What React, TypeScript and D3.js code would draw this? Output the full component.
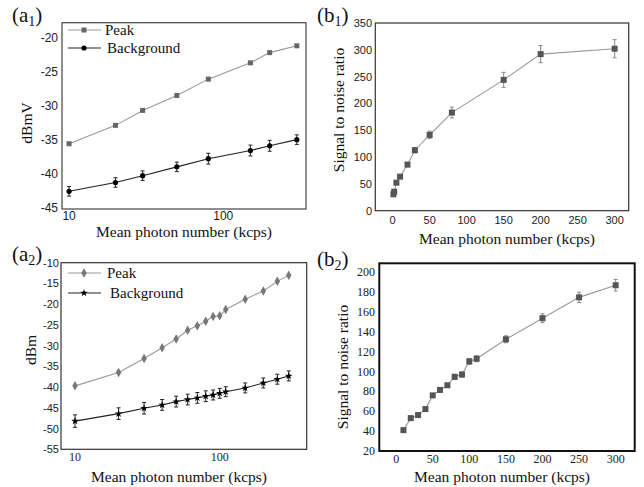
import React from "react";
import * as d3 from "d3";

// ---- data ----
const a1X = [10, 20, 30, 50, 80, 150, 200, 300];
const a1Peak = [-35.6, -32.9, -30.7, -28.5, -26.1, -23.7, -22.2, -21.2];
const a1Bg = [-42.6, -41.3, -40.3, -39.0, -37.8, -36.6, -35.9, -35.0];
const a1BgErr = [0.7, 0.7, 0.7, 0.7, 0.8, 0.8, 0.8, 0.7];
const a1YTicks = [-45, -40, -35, -30, -25, -20];
const a1XTicks = [10, 100];

const b1X = [1, 2, 5, 10, 20, 30, 50, 80, 150, 200, 300];
const b1Snr = [30.6, 35.5, 52.3, 63.5, 86, 112.8, 141.4, 183, 244, 292, 302];
const b1Err = [3, 3, 3, 3, 4, 5, 7, 10, 14, 16, 17];
const b1YTicks = [0, 50, 100, 150, 200, 250, 300, 350];
const b1XTicks = [0, 50, 100, 150, 200, 250, 300];

const a2X = [10, 20, 30, 40, 50, 60, 70, 80, 90, 100, 110, 150, 200, 250, 300];
const a2Peak = [-39.7, -36.5, -33.1, -30.5, -28.4, -26.3, -25.2, -24.1, -23.0, -22.8, -21.3, -18.8, -16.8, -14.5, -13.0];
const a2Bg = [-48.2, -46.4, -45.1, -44.3, -43.5, -43.0, -42.6, -42.2, -41.9, -41.5, -41.1, -40.2, -39.0, -38.1, -37.3];
const a2BgErr = [1.5, 1.4, 1.4, 1.3, 1.3, 1.3, 1.3, 1.3, 1.2, 1.2, 1.2, 1.2, 1.2, 1.2, 1.2];
const a2YTicks = [-55, -50, -45, -40, -35, -30, -25, -20, -15, -10];
const a2XTicks = [10, 100];

const b2X = [10, 20, 30, 40, 50, 60, 70, 80, 90, 100, 110, 150, 200, 250, 300];
const b2Snr = [41, 53.1, 56.2, 62.2, 76, 81.5, 86.2, 94.7, 97, 110.2, 112.9, 132.5, 153.7, 174.7, 186.9];
const b2Err = [1.5, 1.5, 1.5, 1.5, 1.5, 2, 2, 2.5, 2.5, 3, 3, 3.5, 4.5, 5.2, 5.8];
const b2YTicks = [20, 40, 60, 80, 100, 120, 140, 160, 180, 200];
const b2XTicks = [0, 50, 100, 150, 200, 250, 300];

const serif = "'Liberation Serif', 'Times New Roman', serif";
const sans = "'Liberation Sans', Arial, sans-serif";

const Marker = ({ kind, x, y, fill }) => {
  if (kind === "square") return <rect x={x - 2.5} y={y - 2.5} width={5} height={5} fill={fill} />;
  if (kind === "bigsquare") return <rect x={x - 3} y={y - 3} width={6} height={6} fill={fill} />;
  if (kind === "circle") return <circle cx={x} cy={y} r={2.6} fill={fill} />;
  if (kind === "diamond") {
    const p = d3.symbol(d3.symbolDiamond, 26)();
    return <path d={p} transform={`translate(${x},${y})`} fill={fill} />;
  }
  const p = d3.symbol(d3.symbolStar, 18)();
  return <path d={p} transform={`translate(${x},${y})`} fill={fill} />;
};

const Series = ({ xs, ys, errs, x, y, stroke, fill, marker, errColor }) => {
  const line = d3.line<number>().x((_, i) => x(xs[i])).y(d => y(d));
  return (
    <g>
      <path d={line(ys) || ""} fill="none" stroke={stroke} strokeWidth={1.1} />
      {errs && ys.map((v, i) => {
        const cx = x(xs[i]);
        const t = y(v + errs[i]);
        const b = y(v - errs[i]);
        return (
          <g key={"e" + i} stroke={errColor} strokeWidth={1}>
            <line x1={cx} x2={cx} y1={t} y2={b} />
            <line x1={cx - 2} x2={cx + 2} y1={t} y2={t} />
            <line x1={cx - 2} x2={cx + 2} y1={b} y2={b} />
          </g>
        );
      })}
      {ys.map((v, i) => <Marker key={i} kind={marker} x={x(xs[i])} y={y(v)} fill={fill} />)}
    </g>
  );
};

const PanelLabel = ({ x, y, letter, sub }) => (
  <text x={x} y={y} style={{ fontFamily: serif }} fontSize={21} fill="#111">
    ({letter}<tspan fontSize={14} dy={4}>{sub}</tspan><tspan dy={-4}>)</tspan>
  </text>
);

const Legend = ({ x0, y0, gap, items }) => (
  <g>
    {items.map((it, i) => {
      const yy = y0 + i * gap;
      return (
        <g key={i}>
          <line x1={x0} x2={x0 + 33} y1={yy} y2={yy} stroke={it.stroke} strokeWidth={1.1} />
          <Marker kind={it.marker} x={x0 + 16} y={yy} fill={it.fill} />
          <text x={x0 + it.dx} y={yy + 5} style={{ fontFamily: serif }} fontSize={15} fill="#111">{it.label}</text>
        </g>
      );
    })}
  </g>
);

export default function App() {
  // (a1)
  const a1x = d3.scaleLog().domain([9, 344]).range([62, 306]);
  const a1y = d3.scaleLinear().domain([-45.2, -17.8]).range([209, 22.7]);
  // (b1)
  const b1x = d3.scaleLinear().domain([-23.5, 319]).range([375.3, 628.7]);
  const b1y = d3.scaleLinear().domain([0, 350]).range([210.7, 23]);
  // (a2)
  const a2x = d3.scaleLog().domain([8, 399]).range([61, 306.7]);
  const a2y = d3.scaleLinear().domain([-55, -10]).range([449.3, 262.7]);
  // (b2)
  const b2x = d3.scaleLinear().domain([-23, 326]).range([379.3, 634.7]);
  const b2y = d3.scaleLinear().domain([20, 209]).range([451, 263.3]);

  const frame = (x, y, sw, color) => (
    <rect x={x.range()[0]} y={y.range()[1]} width={x.range()[1] - x.range()[0]}
      height={y.range()[0] - y.range()[1]} fill="none" stroke={color} strokeWidth={sw} />
  );

  const title = { fontFamily: serif };

  return (
    <svg width={644} height={487} style={{ position: "absolute", left: 0, top: 0, background: "#fff" }}>
      <rect width={644} height={487} fill="#fff" />

      {/* ---------- a1 ---------- */}
      {frame(a1x, a1y, 1.2, "#444")}
      {a1YTicks.map(t => (
        <text key={t} x={58} y={a1y(t) + 4} textAnchor="end" fontFamily={sans} fontSize={12} fill="#222">{t}</text>
      ))}
      {a1XTicks.map(t => (
        <text key={t} x={a1x(t)} y={220} textAnchor="middle" fontFamily={sans} fontSize={12} fill="#222">{t}</text>
      ))}
      <Series xs={a1X} ys={a1Peak} x={a1x} y={a1y} stroke="#999" fill="#666" marker="square" />
      <Series xs={a1X} ys={a1Bg} errs={a1BgErr} x={a1x} y={a1y} stroke="#222" fill="#000" marker="circle" errColor="#222" />
      <Legend x0={68} y0={30} gap={18} items={[
        { label: "Peak", stroke: "#999", fill: "#666", marker: "square", dx: 37 },
        { label: "Background", stroke: "#222", fill: "#000", marker: "circle", dx: 39 },
      ]} />
      <text transform="translate(32,123) rotate(-90)" textAnchor="middle" style={title} fontSize={15.5} fill="#111">dBmV</text>
      <text x={184} y={237} textAnchor="middle" style={title} fontSize={15.5} fill="#111">Mean photon number (kcps)</text>
      <PanelLabel x={12} y={22} letter="a" sub="1" />

      {/* ---------- b1 ---------- */}
      {frame(b1x, b1y, 1.2, "#333")}
      {b1YTicks.map(t => (
        <text key={t} x={372} y={b1y(t) + 4} textAnchor="end" fontFamily={sans} fontSize={11} fill="#222">{t}</text>
      ))}
      {b1XTicks.map(t => (
        <text key={t} x={b1x(t)} y={224} textAnchor="middle" fontFamily={sans} fontSize={11} fill="#222">{t}</text>
      ))}
      <Series xs={b1X} ys={b1Snr} errs={b1Err} x={b1x} y={b1y} stroke="#999" fill="#555" marker="bigsquare" errColor="#888" />
      <text transform="translate(344,110) rotate(-90)" textAnchor="middle" style={title} fontSize={15.5} fill="#111">Signal to noise ratio</text>
      <text x={507} y={244} textAnchor="middle" style={title} fontSize={15.5} fill="#111">Mean photon number (kcps)</text>
      <PanelLabel x={317} y={22} letter="b" sub="1" />

      {/* ---------- a2 ---------- */}
      {frame(a2x, a2y, 1.2, "#333")}
      {a2YTicks.map(t => (
        <text key={t} x={59} y={a2y(t) + 4} textAnchor="end" fontFamily={sans} fontSize={11} fill="#222">{t}</text>
      ))}
      {a2XTicks.map(t => (
        <text key={t} x={a2x(t)} y={461} textAnchor="middle" style={title} fontSize={12} fill="#222">{t}</text>
      ))}
      <Series xs={a2X} ys={a2Peak} x={a2x} y={a2y} stroke="#999" fill="#777" marker="diamond" />
      <Series xs={a2X} ys={a2Bg} errs={a2BgErr} x={a2x} y={a2y} stroke="#222" fill="#000" marker="star" errColor="#222" />
      <Legend x0={68} y0={273} gap={20} items={[
        { label: "Peak", stroke: "#999", fill: "#777", marker: "diamond", dx: 39 },
        { label: "Background", stroke: "#222", fill: "#000", marker: "star", dx: 42 },
      ]} />
      <text transform="translate(36,350) rotate(-90)" textAnchor="middle" style={title} fontSize={15.5} fill="#111">dBm</text>
      <text x={179} y={482} textAnchor="middle" style={title} fontSize={15.5} fill="#111">Mean photon number (kcps)</text>
      <PanelLabel x={12} y={261} letter="a" sub="2" />

      {/* ---------- b2 ---------- */}
      {frame(b2x, b2y, 2, "#111")}
      {b2YTicks.map(t => (
        <text key={t} x={375} y={b2y(t) + 4} textAnchor="end" style={title} fontSize={12} fill="#222">{t}</text>
      ))}
      {b2XTicks.map(t => (
        <text key={t} x={b2x(t)} y={463} textAnchor="middle" style={title} fontSize={12} fill="#222">{t}</text>
      ))}
      <Series xs={b2X} ys={b2Snr} errs={b2Err} x={b2x} y={b2y} stroke="#999" fill="#555" marker="bigsquare" errColor="#888" />
      <text transform="translate(348,367) rotate(-90)" textAnchor="middle" style={title} fontSize={15.5} fill="#111">Signal to noise ratio</text>
      <text x={502} y={482} textAnchor="middle" style={title} fontSize={15.5} fill="#111">Mean photon number (kcps)</text>
      <PanelLabel x={317} y={266} letter="b" sub="2" />
    </svg>
  );
}
